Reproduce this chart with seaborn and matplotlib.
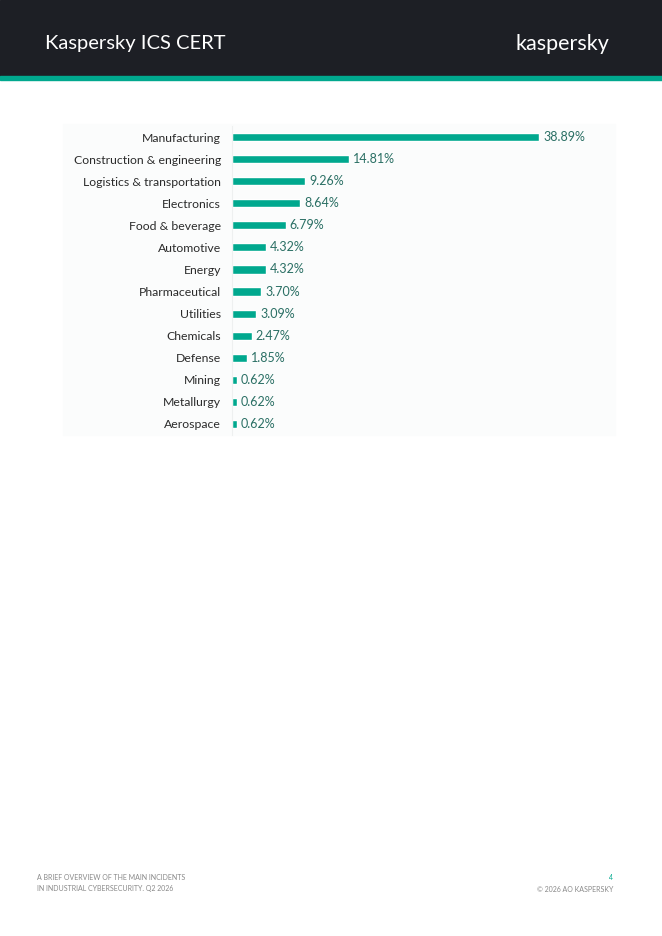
import matplotlib.pyplot as plt
import seaborn as sns
import pandas as pd
from matplotlib.patches import Rectangle

industries = ['Manufacturing', 'Construction & engineering', 'Logistics & transportation',
              'Electronics', 'Food & beverage', 'Automotive', 'Energy', 'Pharmaceutical',
              'Utilities', 'Chemicals', 'Defense', 'Mining', 'Metallurgy', 'Aerospace']
shares = [38.89, 14.81, 9.26, 8.64, 6.79, 4.32, 4.32, 3.70, 3.09, 2.47, 1.85, 0.62, 0.62, 0.62]

df = pd.DataFrame({'industry': industries, 'share': shares})

W, H = 662, 936
TEAL = '#00a88e'
DARK = '#1d1f25'

sns.set_style('white')
plt.rcParams['font.family'] = ['Lato', 'DejaVu Sans']

fig = plt.figure(figsize=(W / 100, H / 100), dpi=100)

def fx(px):
    return px / W

def fy(py):
    return 1 - py / H

# header band
fig.patches.append(Rectangle((0, fy(76)), 1, 76 / H, transform=fig.transFigure,
                             color=DARK, zorder=-2))
fig.patches.append(Rectangle((0, fy(80)), 1, 4 / H, transform=fig.transFigure,
                             color=TEAL, zorder=-2))
fig.text(fx(45), fy(44), 'Kaspersky ICS CERT', color='white', fontsize=14.5,
         va='center', ha='left')
fig.text(fx(609), fy(44), 'kaspersky', color='white', fontsize=15.5,
         va='center', ha='right')

# light chart panel
fig.patches.append(Rectangle((fx(63), fy(435)), (615 - 63) / W, (435 - 124) / H,
                             transform=fig.transFigure, color='#fbfcfc', zorder=-2))

ax = fig.add_axes([fx(232), fy(435), (615 - 232) / W, (435 - 126) / H])
ax.patch.set_alpha(0)
sns.barplot(data=df, x='share', y='industry', orient='h', color=TEAL,
            width=0.37, saturation=1, ax=ax)
ax.set_xlim(0, 48.5)
ax.set_ylim(13.5, -0.5)
ax.set_xlabel('')
ax.set_ylabel('')
ax.set_xticks([])
for s in ['top', 'right', 'bottom']:
    ax.spines[s].set_visible(False)
ax.spines['left'].set_color('#eef0f0')
ax.spines['left'].set_linewidth(0.8)
ax.tick_params(axis='y', length=0, pad=8, labelsize=8.8, labelcolor='#2b2b2b')

for i, v in enumerate(shares):
    ax.text(v + 0.5, i, f'{v:.2f}%', va='center', ha='left', fontsize=9,
            color='#2a6f64')

# footer
fig.text(fx(37), fy(877), 'A BRIEF OVERVIEW OF THE MAIN INCIDENTS', fontsize=5,
         color='#8a8a8a', va='center', ha='left')
fig.text(fx(37), fy(889), 'IN INDUSTRIAL CYBERSECURITY. Q2 2026', fontsize=5,
         color='#8a8a8a', va='center', ha='left')
fig.text(fx(613), fy(877), '4', fontsize=5, color=TEAL, va='center', ha='right')
fig.text(fx(613), fy(889), '© 2026 AO KASPERSKY', fontsize=5,
         color='#8a8a8a', va='center', ha='right')

fig.savefig('out.png', dpi=100)
